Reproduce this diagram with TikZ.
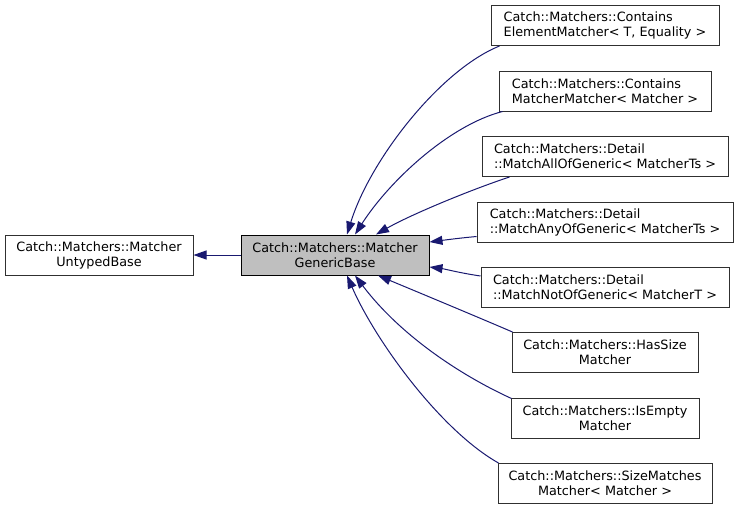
\documentclass[tikz,border=0pt]{standalone}
\usepackage{fontspec}
\setmainfont{DejaVu Sans}
\usetikzlibrary{arrows.meta}
\definecolor{edgeblue}{HTML}{191970}
\definecolor{boxborder}{HTML}{303030}
\definecolor{boxfill}{HTML}{BFBFBF}
\begin{document}
\begin{tikzpicture}[x=1pt,y=-1pt,
  cls/.style={draw=boxborder,line width=1pt,inner sep=0pt,minimum height=40pt,
    font=\fontsize{12.8}{15}\selectfont},
  lcls/.style={cls,align=left},
  ccls/.style={cls,align=center},
  cur/.style={draw=black,fill=boxfill,line width=1pt,inner sep=0pt,minimum height=40pt,
    align=center,font=\fontsize{12.8}{15}\selectfont},
  inh/.style={draw=edgeblue,line width=1pt,-{Triangle[length=13pt,width=9pt]}}]
\useasboundingbox (0,0) rectangle (739,509);
\node[ccls,minimum width=188pt] (ub) at (99,255) {Catch::Matchers::Matcher\\UntypedBase};
\node[cur,minimum width=188pt] (gb) at (335,255) {Catch::Matchers::Matcher\\GenericBase};
\node[lcls,minimum width=228pt] (n1) at (605,25.5) {Catch::Matchers::Contains\\ElementMatcher< T, Equality >};
\node[lcls,minimum width=212pt] (n2) at (605,91) {Catch::Matchers::Contains\\MatcherMatcher< Matcher >};
\node[lcls,minimum width=246pt] (n3) at (605,156.5) {Catch::Matchers::Detail\\::MatchAllOfGeneric< MatcherTs >};
\node[lcls,minimum width=256pt] (n4) at (605,222) {Catch::Matchers::Detail\\::MatchAnyOfGeneric< MatcherTs >};
\node[lcls,minimum width=248pt] (n5) at (605,287) {Catch::Matchers::Detail\\::MatchNotOfGeneric< MatcherT >};
\node[ccls,minimum width=186pt] (n6) at (605,352.5) {Catch::Matchers::HasSize\\Matcher};
\node[ccls,minimum width=188pt] (n7) at (605,418) {Catch::Matchers::IsEmpty\\Matcher};
\node[ccls,minimum width=214pt] (n8) at (605,483.5) {Catch::Matchers::SizeMatches\\Matcher< Matcher >};

\draw[inh] (gb.west) -- (ub.east);
\draw[inh] ([xshift=9pt]n1.south west) .. controls (440,70) and (370,160) .. ([xshift=12pt]gb.north);
\draw[inh] ([xshift=4pt]n2.south west) .. controls (450,125) and (390,180) .. ([xshift=20pt]gb.north);
\draw[inh] ([xshift=28pt]n3.south west) .. controls (470,190) and (410,215) .. ([xshift=41pt]gb.north);
\draw[inh] ([yshift=-14.5pt]n4.west) .. controls (460,238) and (445,240) .. ([yshift=13pt]gb.east);
\draw[inh] ([yshift=11pt]n5.west) .. controls (460,273) and (445,269) .. ([yshift=-12pt]gb.east);
\draw[inh] ([xshift=1pt]n6.north west) .. controls (480,318) and (420,293) .. ([xshift=43pt]gb.south);
\draw[inh] ([xshift=1pt,yshift=-1pt]n7.north west) .. controls (460,375) and (400,335) .. ([xshift=20pt]gb.south);
\draw[inh] ([xshift=1pt]n8.north west) .. controls (440,430) and (375,340) .. ([xshift=12pt]gb.south);
\end{tikzpicture}
\end{document}
